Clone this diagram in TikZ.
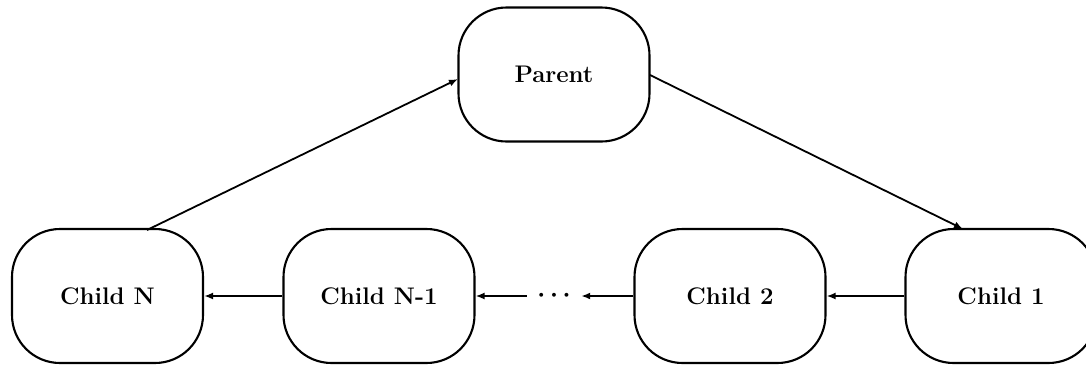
\documentclass[tikz,border=0pt]{standalone}
\usetikzlibrary{arrows.meta}
\begin{document}
\begin{tikzpicture}[x=1pt,y=-1pt,
  box/.style={draw,line width=2.1pt,rounded corners=48pt,minimum width=191pt,minimum height=134pt,inner sep=0pt,
    font=\fontsize{24}{29}\selectfont\bfseries},
  link/.style={line width=1.8pt,-{Latex[length=9pt,width=7pt]}}]
\useasboundingbox (0,0) rectangle (1086,365);
\clip (0,0) rectangle (1086,365);
\node[box] (parent) at (554,74.5) {Parent};
\node[box] (cn) at (107.5,296) {Child N};
\node[box] (cn1) at (379,296) {Child N-1};
\node[box] (c2) at (730,296) {Child 2};
\node[box] (c1) at (1001,296) {Child 1};
\node[minimum width=54pt,inner sep=0pt,font=\fontsize{26}{30}\selectfont\boldmath] (dots) at (554,296) {$\cdots$};
\coordinate (pl) at (458,79);
\coordinate (pr) at (650,75);
\coordinate (cnt) at (147,230);
\coordinate (c1t) at (963,229);
\draw[link] (cnt) -- (pl);
\draw[link] (pr) -- (c1t);
\draw[link] (c1.west) -- (c2.east);
\draw[link] (c2.west) -- (dots.east);
\draw[link] (dots.west) -- (cn1.east);
\draw[link] (cn1.west) -- (cn.east);
\end{tikzpicture}
\end{document}
